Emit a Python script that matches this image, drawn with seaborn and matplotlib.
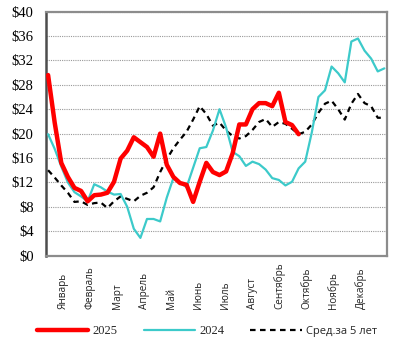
import matplotlib
matplotlib.use("Agg")
import matplotlib.pyplot as plt
import seaborn as sns
import numpy as np
import pandas as pd
from matplotlib.lines import Line2D

sns.set_theme(style="white")

# ---- data (weekly) ----
months = ["Январь", "Февраль", "Март", "Апрель", "Май", "Июнь", "Июль",
          "Август", "Сентябрь", "Октябрь", "Ноябрь", "Декабрь"]

price_2025 = [29.6, 21.8, 15.2, 12.9, 11.1, 10.6, 8.9, 9.9, 10.0, 10.3,
              12.1, 15.9, 17.2, 19.4, 18.6, 17.8, 16.2, 20.0, 14.9, 12.9,
              11.9, 11.6, 8.8, 12.1, 15.2, 13.7, 13.2, 13.8, 16.8, 21.5,
              21.5, 24.0, 25.0, 25.0, 24.5, 26.7, 21.9, 21.4, 19.9]

price_2024 = [19.9, 17.5, 14.6, 12.0, 10.4, 9.7, 8.9, 11.7, 11.2, 10.5,
              10.0, 10.1, 8.0, 4.4, 2.9, 6.0, 6.0, 5.6, 9.5, 12.7,
              12.0, 11.2, 14.4, 17.6, 17.8, 20.5, 24.0, 21.0, 17.0, 16.3,
              14.7, 15.4, 15.0, 14.1, 12.7, 12.4, 11.5, 12.1, 14.3, 15.4,
              20.2, 26.0, 27.1, 31.0, 29.9, 28.4, 35.1, 35.6, 33.6, 32.3,
              30.2, 30.7]

avg_5y = [14.0, 12.8, 11.5, 10.3, 8.8, 8.9, 8.3, 8.6, 8.7, 7.8,
          8.9, 9.7, 9.3, 8.9, 9.8, 10.3, 11.2, 13.7, 15.8, 17.6,
          19.0, 20.3, 22.3, 24.5, 23.2, 21.3, 21.8, 20.5, 19.6, 19.2,
          19.6, 20.6, 21.9, 22.4, 21.1, 21.9, 21.6, 20.8, 19.9, 20.3,
          21.5, 23.4, 24.9, 25.4, 24.0, 22.3, 24.9, 26.5, 25.0, 24.5,
          22.6, 22.6]

y_ticks = list(range(0, 41, 4))
y_labels = [f"${v}" for v in y_ticks]

# ---- figure ----
fig = plt.figure(figsize=(4.01, 3.53), dpi=100)
ax = fig.add_axes([0.115, 0.276, 0.850, 0.691])

df25 = pd.DataFrame({"week": np.arange(len(price_2025)), "v": price_2025})
df24 = pd.DataFrame({"week": np.arange(len(price_2024)), "v": price_2024})
dfav = pd.DataFrame({"week": np.arange(len(avg_5y)), "v": avg_5y})

red = "#FF0000"
cyan = "#3CCACA"

sns.lineplot(data=dfav, x="week", y="v", ax=ax, color="black", linewidth=1.6,
             linestyle=(0, (2.5, 2)), zorder=3)
sns.lineplot(data=df24, x="week", y="v", ax=ax, color=cyan, linewidth=1.6, zorder=4)
sns.lineplot(data=df25, x="week", y="v", ax=ax, color=red, linewidth=3.2,
             zorder=5, solid_capstyle="round", solid_joinstyle="round")

ax.set_xlim(-0.3, 51.4)
ax.set_ylim(0, 40)
ax.set_xlabel("")
ax.set_ylabel("")

ax.set_yticks(y_ticks)
ax.set_yticklabels(y_labels, fontsize=10.5, family="Liberation Serif", color="black")
ax.yaxis.grid(True, color="#999999", linestyle=(0, (1, 1)), linewidth=0.8)
ax.xaxis.grid(False)
ax.set_axisbelow(True)

tick_pos = [2.3 + 4.1 * m for m in range(12)]
ax.set_xticks(tick_pos)
ax.set_xticklabels(months, rotation=90, fontsize=7.2, family="Open Sans",
                   color="#222222", va="bottom", ha="center")
ax.tick_params(axis="x", length=0, pad=38.5)
ax.tick_params(axis="y", length=0, pad=9)

for s in ["top", "right", "bottom"]:
    ax.spines[s].set_color("#8c8c8c")
    ax.spines[s].set_linewidth(1.6)
ax.spines["left"].set_color("#4d4d4d")
ax.spines["left"].set_linewidth(1.8)

handles = [
    Line2D([], [], color=red, linewidth=3.2, solid_capstyle="round"),
    Line2D([], [], color=cyan, linewidth=1.6),
    Line2D([], [], color="black", linewidth=1.6, linestyle=(0, (2.5, 2))),
]
leg = fig.legend(handles, ["2025", "2024", "Сред.за 5 лет"], loc="center",
                 bbox_to_anchor=(0.516, 0.062), ncol=3, frameon=False,
                 handlelength=4.1, handletextpad=0.35, columnspacing=2.1,
                 fontsize=9)
texts = leg.get_texts()
texts[0].set_family("Liberation Serif")
texts[1].set_family("Liberation Serif")
texts[2].set_family("Open Sans")
texts[2].set_fontsize(8)

fig.savefig("out.png", dpi=100)
